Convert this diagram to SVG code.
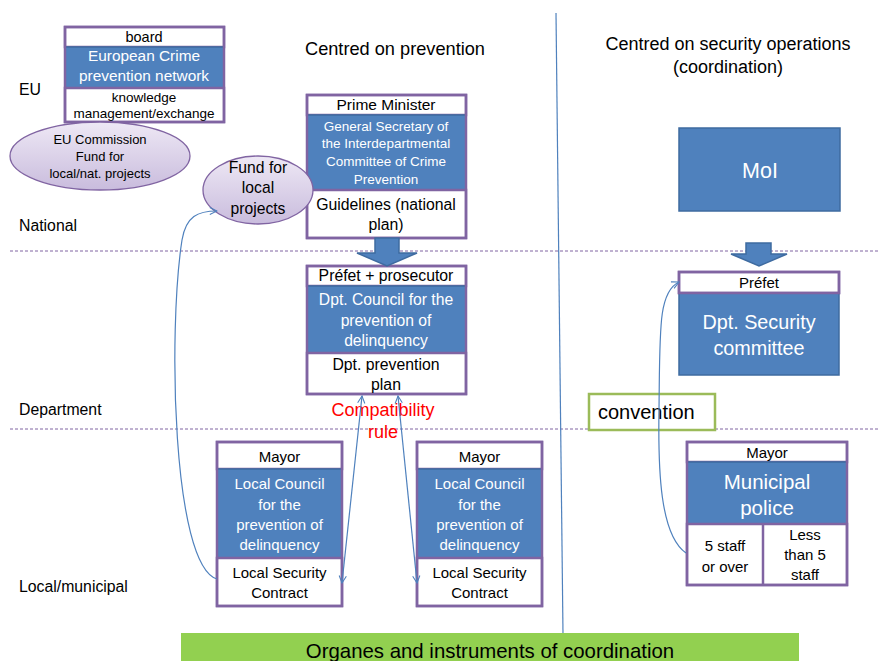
<svg xmlns="http://www.w3.org/2000/svg" width="878" height="661" viewBox="0 0 878 661">
<defs>
<linearGradient id="lav" x1="0" y1="0" x2="0" y2="1">
<stop offset="0" stop-color="#EEE8F5"/>
<stop offset="1" stop-color="#C9BCDD"/>
</linearGradient>
<marker id="oa" viewBox="0 0 10 10" refX="9" refY="5" markerWidth="9" markerHeight="9" orient="auto-start-reverse" markerUnits="userSpaceOnUse">
<path d="M1,1 L9,5 L1,9" fill="none" stroke="#4F81BD" stroke-width="1.2"/>
</marker>
<style>
text{font-family:"Liberation Sans",Arial,sans-serif;}
.w{fill:#fff;stroke:#8064A2;stroke-width:2.5;}
.b{fill:#4F81BD;stroke:#3E6BA0;stroke-width:1.5;}
.bo{fill:none;stroke:#8064A2;stroke-width:2.5;}
.t{fill:#000;text-anchor:middle;}
.tw{fill:#fff;text-anchor:middle;}
.lab{fill:#000;font-size:15.8px;}
.dash{stroke:#8064A2;stroke-width:1;stroke-dasharray:3,2;}
.conn{fill:none;stroke:#4F81BD;stroke-width:1.2;}
.ell{fill:url(#lav);stroke:#8064A2;stroke-width:1.3;}
.blk{fill:#4F81BD;stroke:#3E6BA0;stroke-width:1.5;}
</style>
</defs>
<rect width="878" height="661" fill="#fff"/>

<g id="separators">
<line x1="10" y1="251" x2="878" y2="251" class="dash"/>
<line x1="10" y1="429" x2="878" y2="429" class="dash"/>
<line x1="556" y1="13" x2="563" y2="634" stroke="#4F81BD" stroke-width="1.2"/>
</g>

<g id="row-labels">
<text x="19" y="95" class="lab">EU</text>
<text x="19" y="231" class="lab">National</text>
<text x="19" y="415" class="lab">Department</text>
<text x="19" y="592" class="lab">Local/municipal</text>
</g>

<g id="headings">
<text x="395" y="55" class="t" font-size="18.2">Centred on prevention</text>
<text x="728" y="50" class="t" font-size="18">Centred on security operations</text>
<text x="728" y="73" class="t" font-size="18">(coordination)</text>
</g>

<g id="eu-network">
<rect x="65" y="27" width="159" height="20" class="w"/>
<rect x="65" y="47" width="159" height="41" class="b"/>
<rect x="65" y="88" width="159" height="34" class="w"/>
<rect x="65" y="27" width="159" height="95" class="bo"/>
<text x="144" y="42" class="t" font-size="14.5">board</text>
<text x="144" y="61" class="tw" font-size="15.4">European Crime</text>
<text x="144" y="81" class="tw" font-size="15.4">prevention network</text>
<text x="144" y="102" class="t" font-size="13.5">knowledge</text>
<text x="144" y="118" class="t" font-size="13.5">management/exchange</text>
</g>

<g id="eu-commission">
<ellipse cx="100" cy="156" rx="90" ry="34" class="ell"/>
<text x="100" y="144" class="t" font-size="13">EU Commission</text>
<text x="100" y="161" class="t" font-size="13">Fund for</text>
<text x="100" y="178" class="t" font-size="13">local/nat. projects</text>
</g>

<g id="prime-minister">
<rect x="307" y="95" width="159" height="20" class="w"/>
<rect x="307" y="115" width="159" height="75" class="b"/>
<rect x="307" y="190" width="159" height="48" class="w"/>
<rect x="307" y="95" width="159" height="143" class="bo"/>
<text x="386" y="110" class="t" font-size="15.5">Prime Minister</text>
<text x="386" y="131" class="tw" font-size="13.5">General Secretary of</text>
<text x="386" y="148" class="tw" font-size="13.5">the Interdepartmental</text>
<text x="386" y="166" class="tw" font-size="13.5">Committee of Crime</text>
<text x="386" y="184" class="tw" font-size="13.5">Prevention</text>
<text x="386" y="210" class="t" font-size="15.8">Guidelines (national</text>
<text x="386" y="230" class="t" font-size="15.8">plan)</text>
</g>

<g id="fund-local">
<ellipse cx="258" cy="190" rx="55" ry="34" class="ell"/>
<text x="258" y="173" class="t" font-size="15.7">Fund for</text>
<text x="258" y="193" class="t" font-size="15.7">local</text>
<text x="258" y="214" class="t" font-size="15.7">projects</text>
</g>

<g id="prefet-prosecutor">
<rect x="307" y="266" width="159" height="20" class="w"/>
<rect x="307" y="286" width="159" height="67" class="b"/>
<rect x="307" y="353" width="159" height="41" class="w"/>
<rect x="307" y="266" width="159" height="128" class="bo"/>
<text x="386" y="281" class="t" font-size="15.8">Préfet + prosecutor</text>
<text x="386" y="305" class="tw" font-size="15.7">Dpt. Council for the</text>
<text x="386" y="326" class="tw" font-size="15.7">prevention of</text>
<text x="386" y="346" class="tw" font-size="15.7">delinquency</text>
<text x="386" y="370" class="t" font-size="15.8">Dpt. prevention</text>
<text x="386" y="390" class="t" font-size="15.8">plan</text>
</g>

<g id="compatibility-rule">
<text x="383" y="416" fill="#FF0000" text-anchor="middle" font-size="18">Compatibility</text>
<text x="383" y="438" fill="#FF0000" text-anchor="middle" font-size="18">rule</text>
</g>

<g id="local-council-1">
<rect x="217" y="442" width="125" height="27" class="w"/>
<rect x="217" y="469" width="125" height="89" class="b"/>
<rect x="217" y="558" width="125" height="48" class="w"/>
<rect x="217" y="442" width="125" height="164" class="bo"/>
<text x="279.5" y="462" class="t" font-size="15">Mayor</text>
<text x="279.5" y="489" class="tw" font-size="15">Local Council</text>
<text x="279.5" y="510" class="tw" font-size="15">for the</text>
<text x="279.5" y="530" class="tw" font-size="15">prevention of</text>
<text x="279.5" y="550" class="tw" font-size="15">delinquency</text>
<text x="279.5" y="578" class="t" font-size="15">Local Security</text>
<text x="279.5" y="598" class="t" font-size="15">Contract</text>
</g>

<g id="local-council-2">
<rect x="417" y="442" width="125" height="27" class="w"/>
<rect x="417" y="469" width="125" height="89" class="b"/>
<rect x="417" y="558" width="125" height="48" class="w"/>
<rect x="417" y="442" width="125" height="164" class="bo"/>
<text x="479.5" y="462" class="t" font-size="15">Mayor</text>
<text x="479.5" y="489" class="tw" font-size="15">Local Council</text>
<text x="479.5" y="510" class="tw" font-size="15">for the</text>
<text x="479.5" y="530" class="tw" font-size="15">prevention of</text>
<text x="479.5" y="550" class="tw" font-size="15">delinquency</text>
<text x="479.5" y="578" class="t" font-size="15">Local Security</text>
<text x="479.5" y="598" class="t" font-size="15">Contract</text>
</g>

<g id="moi">
<rect x="679" y="128" width="161" height="83" class="b"/>
<text x="760" y="178" class="tw" font-size="21.5">MoI</text>
</g>

<g id="prefet-security">
<rect x="679" y="272" width="160" height="21" class="w"/>
<rect x="679" y="293" width="160" height="82" class="b"/>
<rect x="679" y="272" width="160" height="21" class="bo"/>
<text x="759" y="288" class="t" font-size="15">Préfet</text>
<text x="759" y="329" class="tw" font-size="19.8">Dpt. Security</text>
<text x="759" y="355" class="tw" font-size="19.8">committee</text>
</g>

<g id="convention">
<rect x="589" y="394" width="126" height="36" fill="#fff" stroke="#9BBB59" stroke-width="2.5"/>
<text x="598" y="419" font-size="20" fill="#000">convention</text>
</g>

<g id="municipal-police">
<rect x="687" y="442" width="160" height="20" class="w"/>
<rect x="687" y="462" width="160" height="62" class="b"/>
<rect x="687" y="524" width="160" height="61" class="w"/>
<line x1="763" y1="524" x2="763" y2="585" stroke="#8064A2" stroke-width="2.5"/>
<rect x="687" y="442" width="160" height="143" class="bo"/>
<text x="767" y="458" class="t" font-size="15">Mayor</text>
<text x="767" y="489" class="tw" font-size="20.5">Municipal</text>
<text x="767" y="515" class="tw" font-size="20.5">police</text>
<text x="725" y="551" class="t" font-size="15">5 staff</text>
<text x="725" y="572" class="t" font-size="15">or over</text>
<text x="805" y="540" class="t" font-size="15">Less</text>
<text x="805" y="560" class="t" font-size="15">than 5</text>
<text x="805" y="580" class="t" font-size="15">staff</text>
</g>

<g id="connectors">
<path d="M375,238 L399,238 L399,253 L417,253 L387,266 L357,253 L375,253 Z" class="blk"/>
<path d="M746,243 L771,243 L771,254 L787,254 L759,266 L731,254 L746,254 Z" class="blk"/>
<path d="M362,396 L342,583" class="conn" marker-start="url(#oa)" marker-end="url(#oa)"/>
<path d="M398,396 L417,583" class="conn" marker-start="url(#oa)" marker-end="url(#oa)"/>
<path d="M217,579 C172,565 168,330 182,240 C186,216 198,211 217,211" class="conn" marker-end="url(#oa)"/>
<path d="M686,553 C660,535 658,470 659,410 C660,330 658,292 679,282" class="conn" marker-end="url(#oa)"/>
</g>

<g id="footer">
<rect x="181" y="633" width="618" height="28" fill="#92D050"/>
<text x="490" y="658" class="t" font-size="20.4">Organes and instruments of coordination</text>
</g>
</svg>
